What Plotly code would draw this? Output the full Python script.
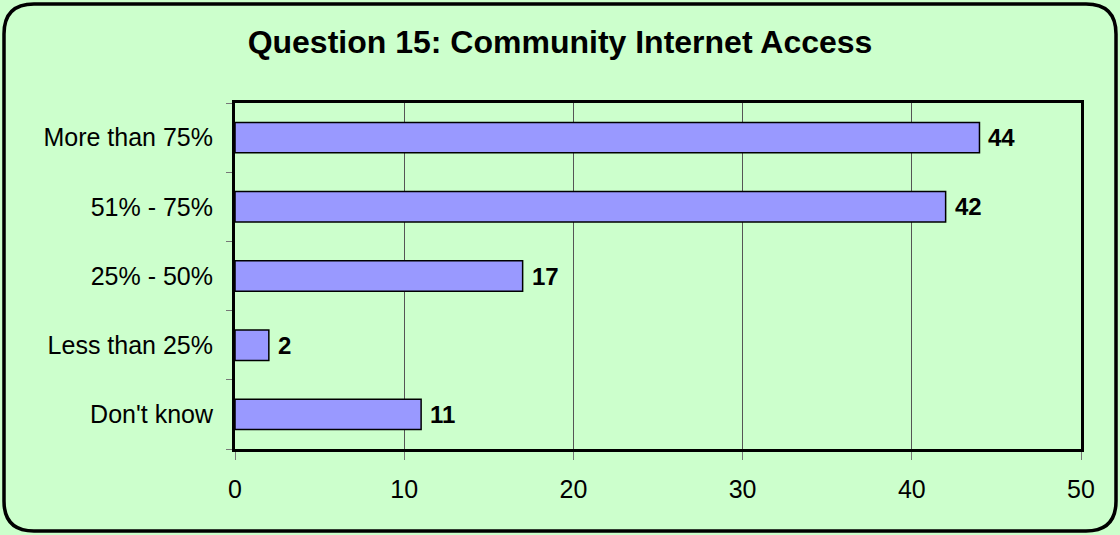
import plotly.graph_objects as go

# 데이터
categories = ["More than 75%", "51% - 75%", "25% - 50%", "Less than 25%", "Don't know"]
counts = [44, 42, 17, 2, 11]
x_ticks = [0, 10, 20, 30, 40, 50]

W, H = 1120, 535
L, R, T, B = 235, 39, 103, 86
pw, ph = W - L - R, H - T - B


def px_x(p):
    return (p - L) / pw


def px_y(p):
    return (H - B - p) / ph


fig = go.Figure()

fig.add_trace(
    go.Bar(
        x=counts,
        y=categories,
        orientation="h",
        marker=dict(color="#9999FF", line=dict(color="black", width=1.5)),
        width=0.44,
        hoverinfo="x+y",
    )
)

# 값 라벨
for c, v in zip(categories, counts):
    fig.add_annotation(
        x=v, y=c, text=f"<b>{v}</b>", showarrow=False,
        xanchor="left", xshift=7,
        font=dict(family="Liberation Sans, Arial", size=24, color="black"),
    )

# 둥근 외곽 테두리
x0, x1 = px_x(4), px_x(1116)
y0, y1 = px_y(531), px_y(4)
rx, ry = 30 / pw, 30 / ph
path = (
    f"M {x0 + rx},{y1} L {x1 - rx},{y1} Q {x1},{y1} {x1},{y1 - ry} "
    f"L {x1},{y0 + ry} Q {x1},{y0} {x1 - rx},{y0} "
    f"L {x0 + rx},{y0} Q {x0},{y0} {x0},{y0 + ry} "
    f"L {x0},{y1 - ry} Q {x0},{y1} {x0 + rx},{y1} Z"
)
fig.add_shape(type="path", path=path, xref="paper", yref="paper",
              line=dict(color="black", width=3.5), layer="below")

fig.update_layout(
    width=W,
    height=H,
    margin=dict(l=L, r=R, t=T, b=B),
    paper_bgcolor="#CCFFCC",
    plot_bgcolor="#CCFFCC",
    showlegend=False,
    font=dict(family="Liberation Sans, Arial", size=25, color="black"),
    title=dict(
        text="<b>Question 15: Community Internet Access</b>",
        x=0.5, xanchor="center", y=1 - 42 / H, yanchor="middle",
        font=dict(size=32, color="black"),
    ),
)

fig.update_xaxes(
    range=[0, 50],
    tickvals=x_ticks,
    showgrid=True,
    gridcolor="#555555",
    gridwidth=1,
    zeroline=False,
    showline=True,
    linecolor="black",
    linewidth=3,
    mirror=True,
    ticks="outside",
    ticklen=8,
    tickcolor="#777777",
    ticklabelstandoff=8,
)

fig.update_yaxes(
    categoryorder="array",
    categoryarray=categories[::-1],
    tickson="boundaries",
    showgrid=False,
    showline=True,
    linecolor="black",
    linewidth=3,
    mirror=True,
    ticks="outside",
    ticklen=6,
    tickcolor="#777777",
    ticklabelstandoff=14,
)

fig.write_html(
    "out.html",
    config={"displayModeBar": False},
    post_script="document.body.style.margin='0';",
)
